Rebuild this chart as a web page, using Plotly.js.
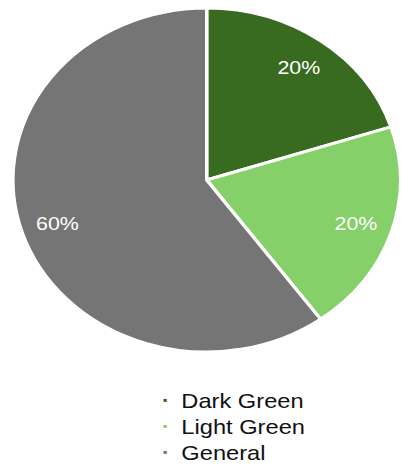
<!DOCTYPE html>
<html>
<head>
<meta charset="utf-8">
<script src="https://cdn.plot.ly/plotly-3.0.1.min.js"></script>
<style>
  html, body { margin: 0; padding: 0; background: #ffffff; overflow: hidden; }
  #chart { width: 356px; height: 465px; transform: scaleX(1.1264); transform-origin: 0 0; }
</style>
</head>
<body>
<div id="chart"></div>
<script>
const categories = ['Dark Green', 'Light Green', 'General'];
const shares = [20, 20, 60];
const colors = ['#386a20', '#86d06a', '#757575'];

const FONT = 'Liberation Sans, Arial, sans-serif';
const pieDomain = { x: [0.0323, 0.9986], y: [0.243, 0.9828] };

// coloured slices
const pie = {
  type: 'pie',
  labels: categories,
  values: shares,
  sort: false,
  direction: 'clockwise',
  rotation: 0,
  marker: { colors: colors, line: { color: '#ffffff', width: 3 } },
  textinfo: 'none',
  hoverinfo: 'none',
  showlegend: false,
  domain: pieDomain
};

// same data as a transparent ring, only to place the percentage labels further out
const labelRing = {
  type: 'pie',
  labels: categories,
  values: shares,
  sort: false,
  direction: 'clockwise',
  rotation: 0,
  hole: 0.62,
  marker: { colors: categories.map(() => 'rgba(0,0,0,0)'), line: { width: 0 } },
  texttemplate: '%{percent:.0%}',
  textposition: 'inside',
  insidetextorientation: 'horizontal',
  insidetextfont: { family: FONT, size: 19, color: '#ffffff' },
  hoverinfo: 'none',
  showlegend: false,
  domain: pieDomain
};

// legend rows drawn as annotations (marker + label)
const rowTop = 400, rowGap = 26, H = 465;
const annotations = [];
categories.forEach((c, i) => {
  const yPaper = 1 - (rowTop + rowGap * i) / H;
  annotations.push({
    xref: 'paper', yref: 'paper', x: 147.4 / 356, y: yPaper,
    xanchor: 'center', yanchor: 'middle', showarrow: false,
    text: '■', font: { family: FONT, size: 6, color: colors[i] }
  });
  annotations.push({
    xref: 'paper', yref: 'paper', x: 158.8 / 356, y: yPaper,
    xanchor: 'left', yanchor: 'middle', showarrow: false,
    text: c, font: { family: FONT, size: 21, color: '#111111' }
  });
});

const layout = {
  width: 356,
  height: 465,
  margin: { l: 0, r: 0, t: 0, b: 0 },
  paper_bgcolor: '#ffffff',
  showlegend: false,
  annotations: annotations
};

Plotly.newPlot('chart', [pie, labelRing], layout, { displayModeBar: false, staticPlot: true });
</script>
</body>
</html>
